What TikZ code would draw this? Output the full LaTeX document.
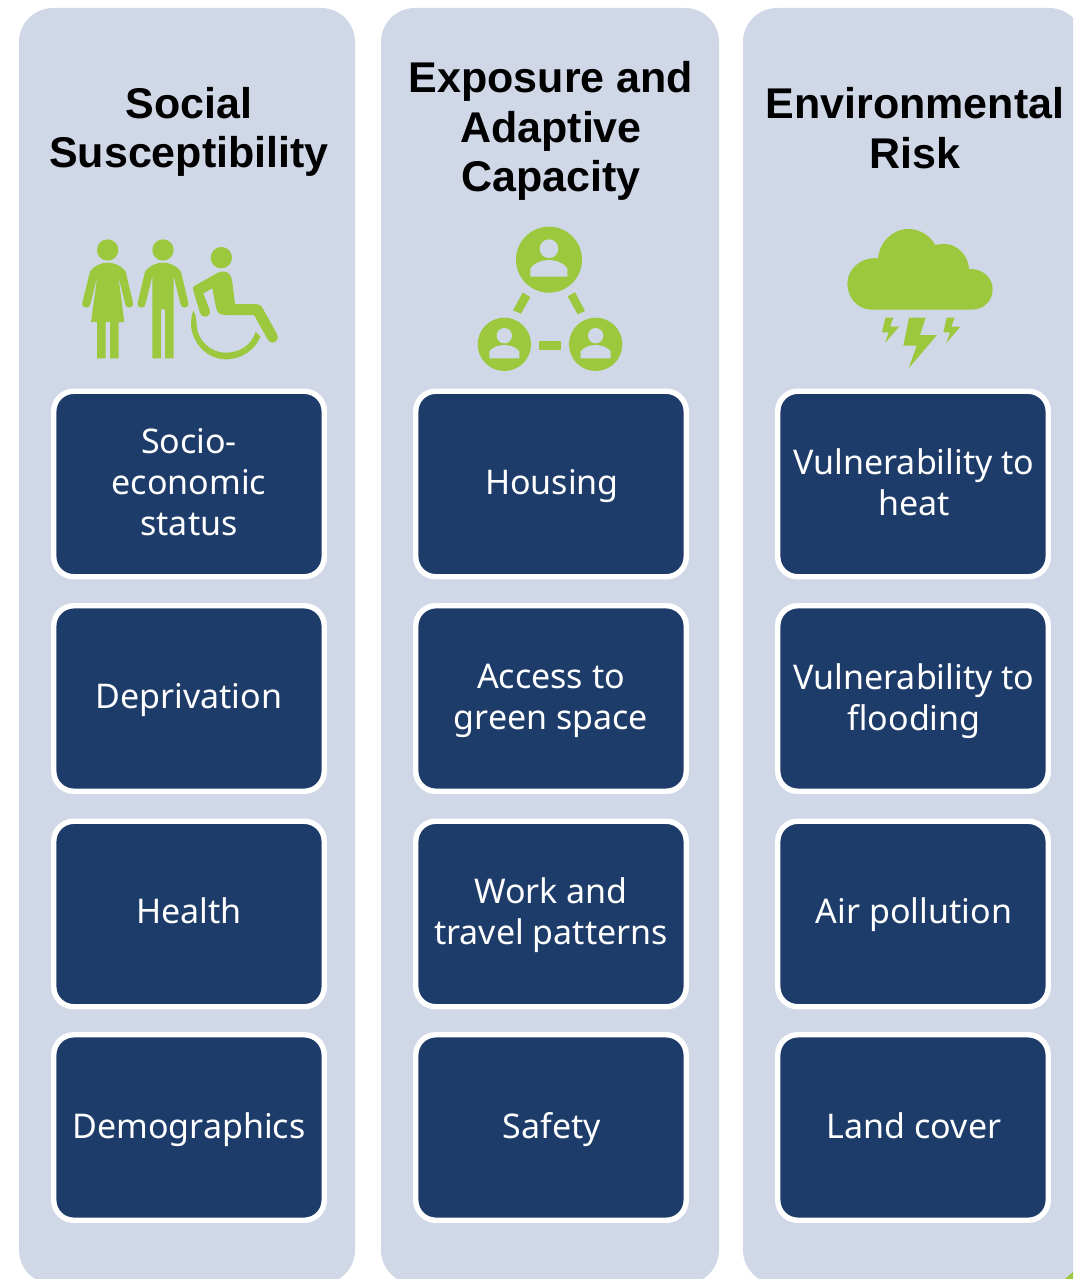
\documentclass[tikz,border=0pt]{standalone}
\usepackage{fontspec}
\setmainfont{Noto Sans}
\newfontfamily\titlefont{Liberation Sans}
\newcommand{\lnst}{\vphantom{Apg}}
\definecolor{panelc}{HTML}{D0D8E8}
\definecolor{boxc}{HTML}{1E3C6A}
\definecolor{greenc}{HTML}{9BC83C}
\tikzset{
  panel/.style={fill=panelc,rounded corners=34pt},
  itembox/.style={draw=white,line width=5.4pt,fill=boxc,rounded corners=20pt,minimum width=270.5pt,minimum height=185.5pt,anchor=center,inner sep=0pt,text=white},
  itemtext/.style={anchor=center,inner sep=0pt,align=center,text=white,font=\fontsize{34}{41}\selectfont},
  titletext/.style={anchor=center,inner sep=0pt,align=center,text=black,font=\titlefont\fontsize{43}{49.5}\selectfont\bfseries},
  icon/.style={fill=greenc,draw=none},
  hole/.style={fill=panelc,draw=none},
  zoomed/.style={x=0.33333pt,y=-0.33333pt}
}
\begin{document}
\begin{tikzpicture}[x=1pt,y=-1pt]
\useasboundingbox (0,0) rectangle (1073,1279);
\clip (0,0) rectangle (1073,1279);
\fill[white] (0,0) rectangle (1073,1279);
% panels
\fill[panel] (19,8) rectangle (355,1284);
\fill[panel] (381,8) rectangle (719,1284);
\fill[panel] (743,8) rectangle (1083,1284);
% titles
\node[titletext] (t1) at (189,132) {Social\\Susceptibility};
\node[titletext] (t2) at (551,131) {Exposure and\\Adaptive\\Capacity};
\node[titletext] (t3) at (915,128) {Environmental\\Risk};
% boxes
\node[itembox] (a1) at (189,484) {};
\node[itembox] (a2) at (189,698.5) {};
\node[itembox] (a3) at (189,914) {};
\node[itembox] (a4) at (189,1127.5) {};
\node[itembox] (b1) at (551,484) {};
\node[itembox] (b2) at (551,698.5) {};
\node[itembox] (b3) at (551,914) {};
\node[itembox] (b4) at (551,1127.5) {};
\node[itembox] (c1) at (913,484) {};
\node[itembox] (c2) at (913,698.5) {};
\node[itembox] (c3) at (913,914) {};
\node[itembox] (c4) at (913,1127.5) {};
% box texts
\node[itemtext] (ta1) at (189,486) {\lnst Socio-\\\lnst economic\\\lnst status};
\node[itemtext] (ta2) at (189,700) {\lnst Deprivation};
\node[itemtext] (ta3) at (189,915) {\lnst Health};
\node[itemtext] (ta4) at (189,1130) {\lnst Demographics};
\node[itemtext] (tb1) at (552,486) {\lnst Housing};
\node[itemtext] (tb2) at (551,701) {\lnst Access to\\\lnst green space};
\node[itemtext] (tb3) at (551,915) {\lnst Work and\\\lnst travel patterns};
\node[itemtext] (tb4) at (552,1130) {\lnst Safety};
\node[itemtext] (tc1) at (914,486) {\lnst Vulnerability to\\\lnst heat};
\node[itemtext] (tc2) at (914,701) {\lnst Vulnerability to\\\lnst flooding};
\node[itemtext] (tc3) at (914,915) {\lnst Air pollution};
\node[itemtext] (tc4) at (914,1130) {\lnst Land cover};
% people icon
\begin{scope}[shift={(60,220)},zoomed]
\fill[icon] (143,90) circle (32);
\fill[icon] (90,155) .. controls (105,135) and (125,128) .. (143,128) .. controls (161,128) and (182,135) .. (197,155)
  -- (219,248) .. controls (221,258) and (214,263) .. (207,263) .. controls (200,263) and (196,258) .. (195,250)
  -- (175,168) -- (193,306) -- (176,306) -- (176,415) -- (150,415) -- (150,306) -- (137,306) -- (137,415) -- (111,415) -- (111,306) -- (93,306) -- (112,168)
  -- (92,250) .. controls (90,258) and (86,263) .. (79,263) .. controls (72,263) and (65,258) .. (67,248) -- cycle;
\fill[icon] (309,90) circle (32);
\fill[icon] (255,155) .. controls (270,135) and (291,128) .. (309,128) .. controls (327,128) and (348,135) .. (363,155)
  -- (385,248) .. controls (387,258) and (380,263) .. (373,263) .. controls (366,263) and (362,258) .. (361,250)
  -- (341,168) -- (341,415) -- (315,415) -- (315,268) -- (303,268) -- (303,415) -- (277,415) -- (277,168)
  -- (257,250) .. controls (255,258) and (252,263) .. (245,263) .. controls (238,263) and (231,258) .. (233,248) -- cycle;
\fill[icon] (484,113) circle (32);
\fill[icon] (403,198) -- (470,160) .. controls (495,146) and (514,160) .. (516,180) -- (525,252) -- (588,252)
  .. controls (597,252) and (603,256) .. (607,263) -- (651,342) .. controls (658,356) and (648,368) .. (637,368)
  .. controls (630,368) and (626,363) .. (623,358) -- (582,285) -- (495,285) .. controls (478,285) and (470,276) .. (468,262)
  -- (457,205) -- (430,220) -- (449,270) .. controls (453,282) and (445,290) .. (435,290) .. controls (427,290) and (422,285) .. (420,278)
  -- (400,212) .. controls (398,205) and (399,201) .. (403,198) -- cycle;
\fill[icon] (400,272) .. controls (390,300) and (390,330) .. (405,358) .. controls (422,395) and (460,418) .. (497,418)
  .. controls (545,418) and (585,390) .. (601,350) -- (587,335) .. controls (575,375) and (540,398) .. (497,398)
  .. controls (450,398) and (412,360) .. (410,315) .. controls (409,300) and (408,285) .. (400,272) -- cycle;
\end{scope}
% network icon
\begin{scope}[shift={(450,215)},zoomed]
\fill[icon] (297,134) circle (99);
\fill[hole] (297,101) circle (28);
\fill[hole] (241,185) -- (241,160) .. controls (252,143) and (278,135) .. (297,135) .. controls (316,135) and (341,143) .. (352,160) -- (352,185) -- cycle;
\fill[icon] (163,388) circle (80);
\fill[hole] (163,362) circle (23);
\fill[hole] (118,430) -- (118,409) .. controls (127,396) and (148,390) .. (163,390) .. controls (178,390) and (199,396) .. (208,409) -- (208,430) -- cycle;
\fill[icon] (437,388) circle (80);
\fill[hole] (437,362) circle (23);
\fill[hole] (392,430) -- (392,409) .. controls (401,396) and (422,390) .. (437,390) .. controls (452,390) and (473,396) .. (482,409) -- (482,430) -- cycle;
\fill[icon] (267,379) rectangle (333,405);
\fill[icon] (218,233) -- (241,246) -- (213,296) -- (189,286) -- cycle;
\fill[icon] (353,244) -- (375,232) -- (405,288) -- (383,298) -- cycle;
\end{scope}
% storm icon
\begin{scope}[shift={(830,215)},zoomed]
\fill[icon] (125,284) -- (425,284) .. controls (460,284) and (488,258) .. (488,223) .. controls (488,188) and (458,160) .. (417,162)
  .. controls (415,120) and (380,87) .. (345,87) .. controls (335,87) and (325,88) .. (316,90)
  .. controls (300,62) and (270,42) .. (235,42) .. controls (185,42) and (147,85) .. (144,130)
  .. controls (90,125) and (52,165) .. (52,205) .. controls (52,250) and (85,284) .. (125,284) -- cycle;
\fill[icon] (237,308) -- (287,308) -- (270,360) -- (321,360) -- (236,460) -- (260,392) -- (220,392) -- cycle;
\fill[icon] (166,308) -- (190,308) -- (180,335) -- (207,335) -- (165,384) -- (176,352) -- (156,352) -- cycle;
\fill[icon] (350,308) -- (374,308) -- (364,335) -- (391,335) -- (349,384) -- (360,352) -- (340,352) -- cycle;
\end{scope}
% corner sliver
\fill[icon] (1065,1279) -- (1073,1272) -- (1073,1279) -- cycle;
\end{tikzpicture}
\end{document}
